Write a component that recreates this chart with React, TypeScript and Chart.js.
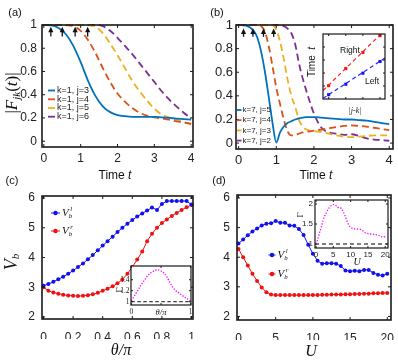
import React, { useEffect, useRef } from 'react';
import { Chart, registerables } from 'chart.js';
Chart.register(...registerables);

const W = 398, H = 360;
const SANS = '"Liberation Sans", Arial, sans-serif';
const SERIF = '"Liberation Serif", "Times New Roman", serif';
const INK = '#222222';
const C_BLUE = '#0072BD', C_RED = '#D95319', C_YEL = '#EDB120', C_PUR = '#7E2F8E';
const M_BLUE = '#1010F0', M_RED = '#F01010', MAGENTA = '#FF00FF';

// ---------- panel (a) ----------
const T_A = [0, 0.2, 0.4, 0.6, 0.8, 1.0, 1.2, 1.4, 1.6, 1.8, 2.0, 2.2, 2.4, 2.6, 2.8, 3.0, 3.2, 3.4, 3.6, 3.8, 4.0];
const A_J3 = [1.0, 0.998, 0.975, 0.92, 0.82, 0.68, 0.52, 0.39, 0.3, 0.25, 0.225, 0.215, 0.21, 0.21, 0.21, 0.21, 0.205, 0.2, 0.195, 0.19, 0.185];
const A_J4 = [1, 1, 1, 0.998, 0.99, 0.95, 0.87, 0.76, 0.63, 0.51, 0.41, 0.34, 0.285, 0.245, 0.22, 0.205, 0.195, 0.185, 0.17, 0.16, 0.15];
const A_J5 = [1, 1, 1, 1, 1, 1, 0.998, 0.985, 0.93, 0.84, 0.74, 0.63, 0.52, 0.43, 0.35, 0.28, 0.23, 0.205, 0.185, 0.165, 0.145];
const A_J6 = [1, 1, 1, 1, 1, 1, 1, 1, 0.99, 0.95, 0.89, 0.82, 0.75, 0.67, 0.59, 0.51, 0.43, 0.36, 0.3, 0.245, 0.195];
const A_LEGEND = ['k=1, j=3', 'k=1, j=4', 'k=1, j=5', 'k=1, j=6'];
const A_ARROWS = [0.19, 0.5, 0.85, 1.19];

// ---------- panel (b) ----------
const T_B = [0, 0.2, 0.4, 0.5, 0.6, 0.7, 0.8, 0.9, 1.0, 1.1, 1.2, 1.3, 1.4, 1.5, 1.6, 1.7, 1.8, 1.9, 2.0, 2.2, 2.4, 2.6, 2.8, 3.0, 3.2, 3.4, 3.6, 3.8, 4.0];
const B_J5 = [1, 0.995, 0.95, 0.89, 0.77, 0.6, 0.39, 0.17, 0.005, 0.09, 0.14, 0.17, 0.185, 0.2, 0.21, 0.215, 0.22, 0.22, 0.22, 0.215, 0.21, 0.205, 0.2, 0.2, 0.195, 0.19, 0.18, 0.17, 0.16];
const B_J4 = [1, 1, 1, 0.998, 0.99, 0.94, 0.82, 0.65, 0.47, 0.33, 0.2, 0.1, 0.065, 0.07, 0.08, 0.09, 0.095, 0.1, 0.105, 0.115, 0.125, 0.135, 0.145, 0.15, 0.145, 0.14, 0.13, 0.12, 0.11];
const B_J3 = [1, 1, 1, 1, 1, 1, 1, 0.998, 0.96, 0.86, 0.71, 0.54, 0.4, 0.31, 0.2, 0.14, 0.115, 0.105, 0.1, 0.095, 0.08, 0.065, 0.055, 0.05, 0.055, 0.06, 0.065, 0.065, 0.065];
const B_J2 = [1, 1, 1, 1, 1, 1, 1, 1, 1, 0.998, 0.99, 0.97, 0.93, 0.84, 0.68, 0.55, 0.44, 0.34, 0.25, 0.13, 0.09, 0.08, 0.07, 0.075, 0.06, 0.04, 0.03, 0.025, 0.02];
const B_LEGEND = ['k=7, j=5', 'k=7, j=4', 'k=7, j=3', 'k=7, j=2'];
const B_ARROWS = [0.13, 0.38, 0.66, 0.93];

// inset of (b)
const BI_X = [1, 2, 3, 4];
const BI_RIGHT = [2.06, 4.68, 7.16, 9.74];
const BI_LEFT = [0.66, 2.27, 3.97, 5.77];
const BI_LINE_X = [0.67, 4.29];
const BI_RIGHT_LINE = [1.3, 10.6];
const BI_LEFT_LINE = [0.1, 6.3];

// ---------- panel (c) ----------
const TH = [0, 0.033, 0.067, 0.1, 0.133, 0.167, 0.2, 0.233, 0.267, 0.3, 0.333, 0.367, 0.4, 0.433, 0.467, 0.5, 0.533, 0.567, 0.6, 0.633, 0.667, 0.7, 0.733, 0.767, 0.8, 0.833, 0.867, 0.9, 0.933, 0.967, 1];
const C_VL = [3.05, 3.11, 3.18, 3.27, 3.35, 3.45, 3.56, 3.68, 3.8, 3.94, 4.08, 4.24, 4.4, 4.55, 4.7, 4.86, 5.0, 5.14, 5.26, 5.38, 5.48, 5.58, 5.68, 5.6, 5.8, 5.9, 5.9, 5.9, 5.9, 5.9, 5.78];
const C_VR = [3.0, 2.88, 2.82, 2.78, 2.75, 2.72, 2.71, 2.7, 2.71, 2.73, 2.76, 2.81, 2.88, 2.95, 3.03, 3.13, 3.26, 3.45, 3.68, 3.93, 4.2, 4.55, 4.8, 5.0, 5.16, 5.28, 5.4, 5.5, 5.6, 5.69, 5.77];
// inset of (c)
const TH_IN = [0, 0.05, 0.1, 0.15, 0.2, 0.25, 0.3, 0.35, 0.4, 0.45, 0.5, 0.55, 0.6, 0.65, 0.7, 0.75, 0.8, 0.85, 0.9, 0.95, 1];
const GAMMA_C = [1.02, 1.1, 1.19, 1.28, 1.36, 1.44, 1.5, 1.54, 1.57, 1.58, 1.56, 1.52, 1.45, 1.35, 1.26, 1.2, 1.16, 1.12, 1.08, 1.05, 1.01];
const REF_C = [1, 1];

// ---------- panel (d) ----------
const U = [0, 0.625, 1.25, 1.875, 2.5, 3.125, 3.75, 4.375, 5, 5.625, 6.25, 6.875, 7.5, 8.125, 8.75, 9.375, 10, 10.625, 11.25, 11.875, 12.5, 13.125, 13.75, 14.375, 15, 15.625, 16.25, 16.875, 17.5, 18.125, 18.75, 19.375, 20];
const D_VL = [4.46, 4.6, 4.74, 4.87, 4.97, 5.07, 5.13, 5.15, 5.22, 5.16, 5.16, 5.07, 5.06, 4.95, 4.75, 4.42, 4.12, 3.88, 3.78, 3.8, 3.8, 3.78, 3.7, 3.55, 3.53, 3.54, 3.53, 3.57, 3.57, 3.47, 3.41, 3.38, 3.44];
const D_VR = [4.28, 4.0, 3.72, 3.44, 3.2, 2.98, 2.82, 2.74, 2.72, 2.72, 2.72, 2.72, 2.72, 2.72, 2.72, 2.72, 2.72, 2.72, 2.73, 2.73, 2.74, 2.74, 2.74, 2.75, 2.75, 2.76, 2.76, 2.77, 2.77, 2.78, 2.78, 2.79, 2.79];
// inset of (d)
const U_IN = [0, 0.5, 1, 1.5, 2, 2.5, 3, 3.5, 4, 4.5, 5, 5.5, 6, 6.5, 7, 7.5, 8, 8.5, 9, 9.5, 10, 10.5, 11, 11.5, 12, 12.5, 13, 13.5, 14, 14.5, 15, 15.5, 16, 16.5, 17, 17.5, 18, 18.5, 19, 19.5, 20];
const GAMMA_D = [1.0, 1.12, 1.28, 1.41, 1.58, 1.7, 1.78, 1.87, 1.92, 1.97, 1.99, 1.97, 1.95, 1.91, 1.91, 1.86, 1.78, 1.68, 1.56, 1.47, 1.42, 1.39, 1.38, 1.37, 1.37, 1.37, 1.36, 1.33, 1.29, 1.27, 1.26, 1.25, 1.25, 1.24, 1.25, 1.23, 1.22, 1.2, 1.18, 1.17, 1.2];
const REF_D = [1, 1];

// ---------- tick values / labels ----------
const TICKS_T = [0, 1, 2, 3, 4];
const LABELS_T = ['0', '1', '2', '3', '4'];
const TICKS_F = [0, 0.2, 0.4, 0.6, 0.8, 1];
const LABELS_F = ['0', '0.2', '0.4', '0.6', '0.8', '1'];
const TICKS_TH = [0, 0.2, 0.4, 0.6, 0.8, 1];
const LABELS_TH = ['0', '0.2', '0.4', '0.6', '0.8', '1'];
const TICKS_V = [2, 3, 4, 5, 6];
const LABELS_V = ['2', '3', '4', '5', '6'];
const TICKS_U = [0, 5, 10, 15, 20];
const LABELS_U = ['0', '5', '10', '15', '20'];
const TICKS_CI_X = [0, 0.5, 1];
const LABELS_CI_X = ['0', '', '1'];
const TICKS_CI_Y = [1, 1.2, 1.4];
const LABELS_CI_Y = ['1', '1.2', '1.4'];
const TICKS_DI_Y = [1, 1.5, 2];
const LABELS_DI_Y = ['1', '1.5', '2'];

type Box = { l: number; t: number; r: number; b: number };
type Ax = { min: number; max: number; ticks: number[]; labels: string[]; family?: string; size?: number; pad?: number; show?: boolean };

const AX_W = 30, AX_H = 20;

type Part = { s: string; f: string; dy?: number; dx?: number; noAdv?: boolean };
function rich(ctx: CanvasRenderingContext2D, parts: Part[], x: number, y: number, align: 'left' | 'center' = 'center', color = '#111') {
  ctx.save();
  ctx.fillStyle = color;
  ctx.textBaseline = 'middle';
  ctx.textAlign = 'left';
  const ws = parts.map((p) => { ctx.font = p.f; return p.noAdv ? 0 : ctx.measureText(p.s).width; });
  const total = ws.reduce((a, b) => a + b, 0);
  let cx = align === 'center' ? x - total / 2 : x;
  parts.forEach((p, i) => { ctx.font = p.f; ctx.fillText(p.s, cx + (p.dx || 0), y + (p.dy || 0)); cx += ws[i]; });
  ctx.restore();
}
function rot(ctx: CanvasRenderingContext2D, x: number, y: number, fn: () => void) {
  ctx.save(); ctx.translate(x, y); ctx.rotate(-Math.PI / 2); fn(); ctx.restore();
}
const sans = (px: number, italic = false) => `${italic ? 'italic ' : ''}${px}px ${SANS}`;
const serif = (px: number, italic = false) => `${italic ? 'italic ' : ''}${px}px ${SERIF}`;

function vbParts(sup: string, big = 11): Part[] {
  return [
    { s: 'V', f: serif(big, true) },
    { s: 'b', f: serif(big * 0.62, true), dy: 3, noAdv: true },
    { s: sup, f: serif(big * 0.62, true), dy: -4, dx: 1.5 },
  ];
}

const pts = (xs: number[], ys: number[]) => xs.map((x, i) => ({ x, y: ys[i] }));
const curve = (xs: number[], ys: number[], color: string, dash: number[], width = 1.8) => ({
  data: pts(xs, ys), borderColor: color, borderWidth: width, borderDash: dash, pointRadius: 0,
  fill: false, cubicInterpolationMode: 'monotone', clip: 1,
});
const markerLine = (xs: number[], ys: number[], color: string) => ({
  data: pts(xs, ys), borderColor: color, backgroundColor: color, borderWidth: 1, pointRadius: 2,
  pointBorderWidth: 0, pointBackgroundColor: color, tension: 0, fill: false, clip: 3,
});

function scaleOpts(a: Ax, horiz: boolean) {
  return {
    type: 'linear', min: a.min, max: a.max, bounds: 'data',
    afterBuildTicks: (s: any) => { s.ticks = a.ticks.map((v) => ({ value: v })); },
    afterFit: (s: any) => {
      if (horiz) s.height = AX_H; else s.width = AX_W;
      s.paddingLeft = 0; s.paddingRight = 0; s.paddingTop = 0; s.paddingBottom = 0;
    },
    grid: { display: false, drawTicks: false },
    border: { display: false },
    ticks: {
      display: a.show !== false, autoSkip: false, maxRotation: 0, minRotation: 0,
      padding: a.pad ?? 4, color: INK,
      font: { family: a.family || SANS, size: a.size || 12 },
      callback: (_v: any, i: number) => a.labels[i] ?? '',
    },
  };
}

function makeConfig(box: Box, xa: Ax, ya: Ax, datasets: any[], o: { inset?: boolean; tick: number; frame: number; extra?: (c: any, ctx: CanvasRenderingContext2D) => void }) {
  return {
    type: 'line',
    data: { datasets },
    options: {
      responsive: false, maintainAspectRatio: false, animation: false, devicePixelRatio: 1, events: [],
      layout: { padding: { left: box.l - AX_W, top: box.t, right: W - box.r, bottom: H - box.b - AX_H } },
      plugins: { legend: { display: false }, tooltip: { enabled: false }, title: { display: false } },
      scales: { x: scaleOpts(xa, true), y: scaleOpts(ya, false) },
    },
    plugins: [{
      id: 'deco',
      beforeDraw(c: any) {
        if (!o.inset) return;
        const { left, top, right, bottom } = c.chartArea;
        c.ctx.save(); c.ctx.fillStyle = '#fff'; c.ctx.fillRect(left, top, right - left, bottom - top); c.ctx.restore();
      },
      afterDatasetsDraw(c: any) {
        const ctx: CanvasRenderingContext2D = c.ctx;
        const { left, top, right, bottom } = c.chartArea;
        ctx.save();
        ctx.strokeStyle = '#1a1a1a';
        ctx.lineWidth = 1;
        const L = o.tick;
        xa.ticks.forEach((v) => {
          const px = c.scales.x.getPixelForValue(v);
          ctx.beginPath(); ctx.moveTo(px, bottom); ctx.lineTo(px, bottom - L); ctx.moveTo(px, top); ctx.lineTo(px, top + L); ctx.stroke();
        });
        ya.ticks.forEach((v) => {
          const py = c.scales.y.getPixelForValue(v);
          ctx.beginPath(); ctx.moveTo(left, py); ctx.lineTo(left + L, py); ctx.moveTo(right, py); ctx.lineTo(right - L, py); ctx.stroke();
        });
        ctx.lineWidth = o.frame;
        ctx.strokeRect(left, top, right - left, bottom - top);
        ctx.restore();
        if (o.extra) { ctx.save(); o.extra(c, ctx); ctx.restore(); }
      },
    }],
  } as any;
}

function drawArrows(c: any, ctx: CanvasRenderingContext2D, xs: number[], yTail: number, yTip: number) {
  ctx.strokeStyle = '#111'; ctx.fillStyle = '#111'; ctx.lineWidth = 1.3;
  const y0 = c.scales.y.getPixelForValue(yTail);
  const y1 = c.scales.y.getPixelForValue(yTip);
  xs.forEach((v) => {
    const x = c.scales.x.getPixelForValue(v);
    ctx.beginPath(); ctx.moveTo(x, y0); ctx.lineTo(x, y1 + 3); ctx.stroke();
    ctx.beginPath(); ctx.moveTo(x, y1); ctx.lineTo(x - 2.6, y1 + 5.5); ctx.lineTo(x + 2.6, y1 + 5.5); ctx.closePath(); ctx.fill();
  });
}

function drawLegendLines(ctx: CanvasRenderingContext2D, labels: string[], colors: string[], x0: number, x1: number, tx: number, ys: number[], size: number) {
  labels.forEach((lab, i) => {
    ctx.strokeStyle = colors[i]; ctx.lineWidth = 1.8;
    ctx.beginPath(); ctx.moveTo(x0, ys[i]); ctx.lineTo(x1, ys[i]); ctx.stroke();
    rich(ctx, [{ s: lab, f: sans(size) }], tx, ys[i], 'left', '#222');
  });
}

function drawMarkerLegend(ctx: CanvasRenderingContext2D, x0: number, x1: number, tx: number, ys: number[]) {
  const cols = [M_BLUE, M_RED];
  const sups = ['l', 'r'];
  ys.forEach((y, i) => {
    ctx.strokeStyle = cols[i]; ctx.fillStyle = cols[i]; ctx.lineWidth = 1;
    ctx.beginPath(); ctx.moveTo(x0, y); ctx.lineTo(x1, y); ctx.stroke();
    ctx.beginPath(); ctx.arc((x0 + x1) / 2, y, 2.2, 0, Math.PI * 2); ctx.fill();
    rich(ctx, vbParts(sups[i]), tx, y, 'left');
  });
}

const BOX_A: Box = { l: 42, t: 25, r: 193, b: 147 };
const BOX_B: Box = { l: 236, t: 25, r: 393, b: 149 };
const BOX_C: Box = { l: 42, t: 196, r: 193, b: 319 };
const BOX_D: Box = { l: 237, t: 195, r: 391, b: 320 };
const BOX_BI: Box = { l: 323, t: 34, r: 385, b: 99 };
const BOX_CI: Box = { l: 131, t: 266, r: 191, b: 305 };
const BOX_DI: Box = { l: 315, t: 200, r: 388, b: 248 };

const SPECS: (() => any)[] = [
  // (a)
  () => makeConfig(BOX_A,
    { min: -0.05, max: 4.05, ticks: TICKS_T, labels: LABELS_T, size: 12, pad: 4 },
    { min: -0.05, max: 1, ticks: TICKS_F, labels: LABELS_F, size: 12, pad: 5 },
    [
      curve(T_A, A_J3, C_BLUE, [], 1.8),
      curve(T_A, A_J4, C_RED, [7, 4]),
      curve(T_A, A_J5, C_YEL, [7, 4]),
      curve(T_A, A_J6, C_PUR, [7, 4]),
    ],
    {
      tick: 3, frame: 1.6,
      extra: (c, ctx) => {
        drawArrows(c, ctx, A_ARROWS, 0.9, 0.985);
        drawLegendLines(ctx, A_LEGEND, [C_BLUE, C_RED, C_YEL, C_PUR], 48, 55, 57, [90.5, 99.3, 108, 116.7], 9);
        rich(ctx, [{ s: '(a)', f: sans(11) }], 15, 13);
        rich(ctx, [{ s: 'Time ', f: sans(12) }, { s: 't', f: sans(12, true) }], 115, 176);
        rot(ctx, 13, 93, () => rich(ctx, [
          { s: '|', f: serif(17) }, { s: 'F', f: serif(17, true) }, { s: 'jk', f: serif(11, true), dy: 4 },
          { s: '(', f: serif(17) }, { s: 't', f: serif(17, true) }, { s: ')|', f: serif(17) },
        ], 0, 0));
      },
    }),
  // (b)
  () => makeConfig(BOX_B,
    { min: -0.07, max: 4.1, ticks: TICKS_T, labels: LABELS_T, size: 13, pad: 4 },
    { min: -0.05, max: 1, ticks: TICKS_F, labels: LABELS_F, size: 13, pad: 3 },
    [
      curve(T_B, B_J5, C_BLUE, [], 1.8),
      curve(T_B, B_J4, C_RED, [7, 4]),
      curve(T_B, B_J3, C_YEL, [7, 4]),
      curve(T_B, B_J2, C_PUR, [7, 4]),
    ],
    {
      tick: 3, frame: 1.6,
      extra: (c, ctx) => {
        drawArrows(c, ctx, B_ARROWS, 0.9, 0.97);
        drawLegendLines(ctx, B_LEGEND, [C_BLUE, C_RED, C_YEL, C_PUR], 237, 241.5, 242.5, [110, 120.2, 130.4, 140.6], 8);
        rich(ctx, [{ s: '(b)', f: sans(11) }], 217, 13);
        rich(ctx, [{ s: 'Time ', f: sans(12) }, { s: 't', f: sans(12, true) }], 316, 176);
      },
    }),
  // (c)
  () => makeConfig(BOX_C,
    { min: -0.01, max: 1.01, ticks: TICKS_TH, labels: LABELS_TH, size: 12, pad: 11 },
    { min: 1.93, max: 6.07, ticks: TICKS_V, labels: LABELS_V, size: 12, pad: 7 },
    [markerLine(TH, C_VL, M_BLUE), markerLine(TH, C_VR, M_RED)],
    {
      tick: 3, frame: 1.6,
      extra: (c, ctx) => {
        drawMarkerLegend(ctx, 51, 60, 62, [213, 231]);
        rich(ctx, [{ s: '(c)', f: sans(11) }], 12, 181);
        rich(ctx, [{ s: 'θ/π', f: serif(16, true) }], 121, 351);
        rot(ctx, 12, 262, () => rich(ctx, [{ s: 'V', f: serif(18, true) }, { s: 'b', f: serif(11, true), dy: 4 }], 0, 0));
      },
    }),
  // (d)
  () => makeConfig(BOX_D,
    { min: -0.2, max: 20.5, ticks: TICKS_U, labels: LABELS_U, size: 12, pad: 11 },
    { min: 1.88, max: 6.1, ticks: TICKS_V, labels: LABELS_V, size: 12, pad: 7 },
    [markerLine(U, D_VL, M_BLUE), markerLine(U, D_VR, M_RED)],
    {
      tick: 3, frame: 1.6,
      extra: (c, ctx) => {
        drawMarkerLegend(ctx, 268.5, 275.5, 277.5, [255, 274]);
        rich(ctx, [{ s: '(d)', f: sans(11) }], 219, 181);
        rich(ctx, [{ s: 'U', f: serif(16, true) }], 311, 352);
      },
    }),
  // inset (b)
  () => makeConfig(BOX_BI,
    { min: 0.67, max: 4.29, ticks: BI_X, labels: [], show: false },
    { min: 0, max: 10, ticks: [2, 4, 6, 8], labels: [], show: false },
    [
      { data: pts(BI_LINE_X, BI_RIGHT_LINE), borderColor: '#FF2020', borderWidth: 1.2, borderDash: [4, 3], pointRadius: 0, clip: 0 },
      { data: pts(BI_LINE_X, BI_LEFT_LINE), borderColor: '#2020FF', borderWidth: 1.2, borderDash: [4, 3], pointRadius: 0, clip: 0 },
      { data: pts(BI_X, BI_RIGHT), showLine: false, pointStyle: 'rect', pointRadius: 2.2, pointBackgroundColor: '#FF1010', pointBorderWidth: 0, clip: 3 },
      { data: pts(BI_X, BI_LEFT), showLine: false, pointStyle: 'rect', pointRadius: 2.2, pointBackgroundColor: '#1010FF', pointBorderWidth: 0, clip: 3 },
    ],
    {
      inset: true, tick: 2, frame: 1.2,
      extra: (c, ctx) => {
        rich(ctx, [{ s: 'Right', f: sans(8.5) }], 350, 51);
        rich(ctx, [{ s: 'Left', f: sans(8.5) }], 372, 82);
        rich(ctx, [{ s: '|j-k|', f: serif(8, true) }], 355, 111);
        rot(ctx, 312.5, 62, () => rich(ctx, [{ s: 'Time  ', f: sans(10) }, { s: 't', f: sans(10, true) }], 0, 0));
      },
    }),
  // inset (c)
  () => makeConfig(BOX_CI,
    { min: -0.005, max: 1.005, ticks: TICKS_CI_X, labels: LABELS_CI_X, family: SERIF, size: 7.5, pad: 3 },
    { min: 0.94, max: 1.65, ticks: TICKS_CI_Y, labels: LABELS_CI_Y, family: SERIF, size: 7.5, pad: 1.5 },
    [
      { data: pts(TH_IN, GAMMA_C), borderColor: MAGENTA, borderWidth: 1.3, borderDash: [1.3, 1.5], pointRadius: 0, cubicInterpolationMode: 'monotone', clip: 1 },
      { data: pts([0, 1], REF_C), borderColor: '#111', borderWidth: 1, borderDash: [3.5, 2.5], pointRadius: 0, clip: 0 },
    ],
    {
      inset: true, tick: 2, frame: 1.2,
      extra: (c, ctx) => {
        const x = c.scales.x.getPixelForValue(0.5);
        rich(ctx, [{ s: 'θ/π', f: serif(8.5, true) }], x, 312.5);
        rot(ctx, 120, 290, () => rich(ctx, [{ s: 'Γ', f: serif(9) }], 0, 0));
      },
    }),
  // inset (d)
  () => makeConfig(BOX_DI,
    { min: -0.3, max: 20.8, ticks: TICKS_U, labels: LABELS_U, size: 8, pad: 1.5 },
    { min: 0.9, max: 2.1, ticks: TICKS_DI_Y, labels: LABELS_DI_Y, size: 8, pad: 2 },
    [
      { data: pts(U_IN, GAMMA_D), borderColor: MAGENTA, borderWidth: 1.3, borderDash: [1.3, 1.6], pointRadius: 0, cubicInterpolationMode: 'monotone', clip: 1 },
      { data: pts([-0.3, 20.8], REF_D), borderColor: '#555', borderWidth: 1.4, borderDash: [4, 3], pointRadius: 0, clip: 0 },
    ],
    {
      inset: true, tick: 2, frame: 1.2,
      extra: (c, ctx) => {
        rich(ctx, [{ s: 'U', f: serif(10, true) }], 357, 262);
        rot(ctx, 301, 215, () => rich(ctx, [{ s: 'Γ', f: serif(9) }], 0, 0));
      },
    }),
];

export default function App() {
  const refs = useRef<(HTMLCanvasElement | null)[]>([]);
  useEffect(() => {
    const charts = SPECS.map((mk, i) => new Chart(refs.current[i] as HTMLCanvasElement, mk()));
    return () => charts.forEach((ch) => ch.destroy());
  }, []);
  return (
    <div style={{ position: 'absolute', left: 0, top: 0, width: W, height: H, background: '#fff', overflow: 'hidden' }}>
      {SPECS.map((_, i) => (
        <canvas
          key={i}
          ref={(el) => { refs.current[i] = el; }}
          width={W}
          height={H}
          style={{ position: 'absolute', left: 0, top: 0, width: W, height: H }}
        />
      ))}
    </div>
  );
}
